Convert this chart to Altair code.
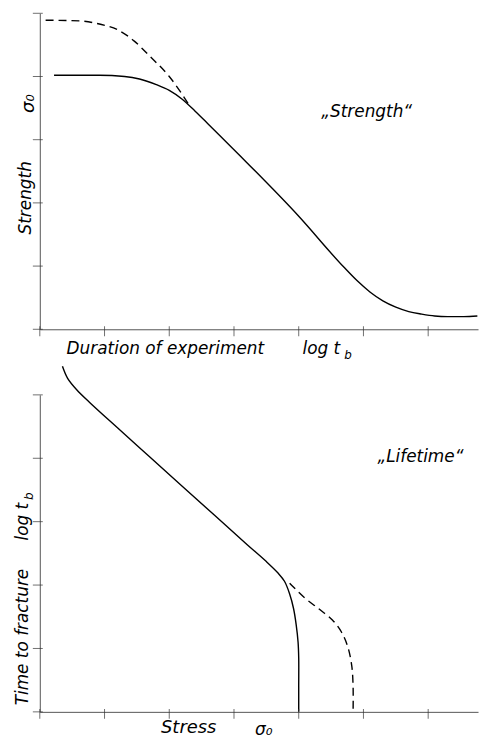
import altair as alt
import pandas as pd

# ---------------- data ----------------
# top panel: strength vs. log duration
top_solid_x = [0.22, 0.92, 1.31, 1.54, 1.80, 2.00, 2.20, 2.40, 2.60, 3.07, 3.99, 4.70, 4.90, 5.10, 5.30, 5.50, 5.70, 5.90, 6.10, 6.30, 6.55, 6.76]
top_solid_y = [4.02, 4.02, 4.00, 3.96, 3.87, 3.78, 3.64, 3.45, 3.25, 2.77, 1.80, 0.98, 0.77, 0.59, 0.45, 0.35, 0.28, 0.24, 0.21, 0.20, 0.20, 0.21]
top_dash_x = [0.09, 0.61, 0.92, 1.20, 1.46, 1.69, 2.00, 2.30]
top_dash_y = [4.89, 4.88, 4.83, 4.74, 4.56, 4.33, 4.00, 3.56]

# bottom panel: log lifetime vs. stress
bot_solid_x = [0.35, 0.43, 0.57, 0.77, 1.20, 1.70, 2.20, 2.70, 3.20, 3.50, 3.68, 3.78, 3.86, 3.92, 3.96, 3.99, 4.00, 4.00, 4.00]
bot_solid_y = [5.45, 5.26, 5.08, 4.88, 4.48, 4.02, 3.56, 3.10, 2.64, 2.37, 2.19, 2.06, 1.86, 1.63, 1.38, 1.10, 0.85, 0.40, 0.00]
bot_dash_x = [3.86, 4.09, 4.33, 4.52, 4.66, 4.76, 4.82, 4.84, 4.84]
bot_dash_y = [2.03, 1.80, 1.61, 1.45, 1.26, 1.02, 0.72, 0.40, 0.00]

x_ticks = [0, 1, 2, 3, 4, 5, 6]
y_ticks = [0, 1, 2, 3, 4, 5]

top_labels = ["\u201eStrength\u201c", "\u03c3\u2080", "Strength", "Duration of experiment", "log t", "b"]
top_lab_x = [5.05, -0.17, -0.215, 1.94, 4.35, 4.76]
top_lab_y = [3.43, 3.57, 2.08, -0.31, -0.31, -0.40]
top_lab_angle = [0, 270, 270, 0, 0, 0]
top_lab_size = [17, 18, 17, 17, 17, 12]

bot_labels = ["\u201eLifetime\u201c", "log t", "b", "Time to fracture", "Stress", "\u03c3\u2080"]
bot_lab_x = [5.88, -0.26, -0.17, -0.26, 2.30, 3.46]
bot_lab_y = [4.02, 3.00, 3.40, 1.18, -0.25, -0.28]
bot_lab_angle = [0, 270, 270, 270, 0, 0]
bot_lab_size = [17, 17, 12, 17, 18, 17]

X_DOMAIN = [0, 6.77]
Y_DOMAIN = [0, 5]
FONT = "DejaVu Sans"


def curve_df(xs, ys):
    return pd.DataFrame({"x": xs, "y": ys, "i": list(range(len(xs)))})


def labels_df(t, xs, ys, a, s):
    return pd.DataFrame({"text": t, "x": xs, "y": ys, "angle": a, "size": s})


xs = alt.Scale(domain=X_DOMAIN, nice=False, zero=False)
ys = alt.Scale(domain=Y_DOMAIN, nice=False, zero=False)
ax = alt.Axis(labels=False, ticks=False, grid=False, title=None,
              domainColor="#555", domainWidth=1)


def line(df, interp, dashed=False):
    kw = dict(color="black", strokeWidth=1.4, interpolate=interp)
    if dashed:
        kw["strokeDash"] = [8, 5]
    return alt.Chart(df).mark_line(**kw).encode(
        x=alt.X("x:Q", scale=xs, axis=ax),
        y=alt.Y("y:Q", scale=ys, axis=ax),
        order="i:Q",
    )


def tick_layers():
    xt = alt.Chart(pd.DataFrame({"x": x_ticks, "y": [0] * len(x_ticks)})).mark_tick(
        orient="vertical", size=10, thickness=1, color="#333", yOffset=2
    ).encode(x=alt.X("x:Q", scale=xs, axis=ax), y=alt.Y("y:Q", scale=ys, axis=ax))
    yt = alt.Chart(pd.DataFrame({"x": [0] * len(y_ticks), "y": y_ticks})).mark_tick(
        orient="horizontal", size=10, thickness=1, color="#333", xOffset=-2
    ).encode(x=alt.X("x:Q", scale=xs, axis=ax), y=alt.Y("y:Q", scale=ys, axis=ax))
    return xt, yt


def text_layer(df):
    return alt.Chart(df).mark_text(
        font=FONT, fontStyle="italic", color="black", align="center", baseline="middle"
    ).encode(
        x=alt.X("x:Q", scale=xs, axis=ax),
        y=alt.Y("y:Q", scale=ys, axis=ax),
        text="text:N",
        angle=alt.Angle("angle:Q", scale=None),
        size=alt.Size("size:Q", scale=None, legend=None),
    )


txt, tyt = tick_layers()
top = alt.layer(
    line(curve_df(top_dash_x, top_dash_y), "monotone", dashed=True),
    line(curve_df(top_solid_x, top_solid_y), "monotone"),
    txt, tyt,
    text_layer(labels_df(top_labels, top_lab_x, top_lab_y, top_lab_angle, top_lab_size)),
).properties(width=441, height=318)

bxt, byt = tick_layers()
bottom = alt.layer(
    line(curve_df(bot_dash_x, bot_dash_y), "catmull-rom", dashed=True),
    line(curve_df(bot_solid_x, bot_solid_y), "catmull-rom"),
    bxt, byt,
    text_layer(labels_df(bot_labels, bot_lab_x, bot_lab_y, bot_lab_angle, bot_lab_size)),
).properties(width=441, height=319)

chart = alt.vconcat(top, bottom, spacing=66, bounds="flush").configure_view(
    stroke=None
).properties(
    padding={"left": 6, "top": 2, "right": 0, "bottom": 0},
    background="white",
)

chart.save("out.html", embed_options={"renderer": "svg", "actions": False})
